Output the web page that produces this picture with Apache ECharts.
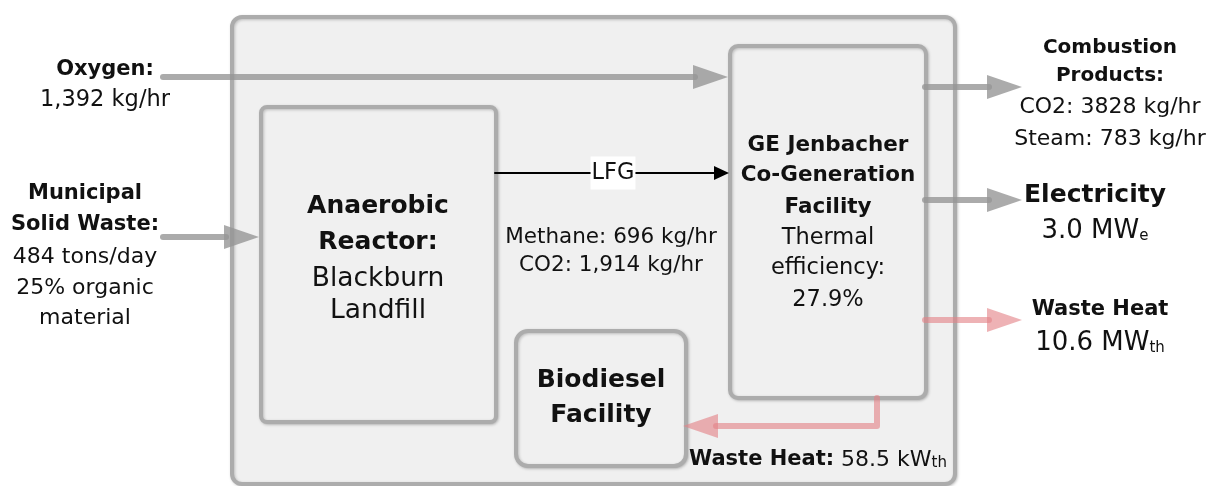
<!DOCTYPE html>
<html>
<head>
<meta charset="utf-8">
<script src="https://cdn.jsdelivr.net/npm/echarts@6/dist/echarts.min.js"></script>
<style>
  html, body { margin: 0; padding: 0; background: #fff; }
  #chart { width: 1210px; height: 486px; }
</style>
</head>
<body>
<div id="chart"></div>
<script>
// ---- text content of the diagram ----
const oxygenText = ['Oxygen:', '1,392 kg/hr'];
const mswText = ['Municipal', 'Solid Waste:', '484 tons/day', '25% organic', 'material'];
const reactorText = ['Anaerobic', 'Reactor:', 'Blackburn', 'Landfill'];
const gasLabel = 'LFG';
const gasText = ['Methane: 696 kg/hr', 'CO2: 1,914 kg/hr'];
const cogenText = ['GE Jenbacher', 'Co-Generation', 'Facility', 'Thermal', 'efficiency:', '27.9%'];
const biodieselText = ['Biodiesel', 'Facility'];
const exhaustText = ['Combustion', 'Products:', 'CO2: 3828 kg/hr', 'Steam: 783 kg/hr'];
const powerText = ['Electricity', '3.0 MW', 'e'];
const heatText = ['Waste Heat', '10.6 MW', 'th'];
const biodieselHeatText = ['Waste Heat:', '58.5 kW', 'th'];

// ---- layout (diagram units = canvas px) ----
// boxes: x0, y0, x1, y1, corner radius
const boxes = [
  [232, 17, 955, 484, 10],   // plant boundary
  [261, 107, 496, 422, 6],   // reactor
  [730, 46, 926, 398, 8],    // co-generation
  [516, 331, 686, 466, 12]   // biodiesel
];
const grayFlows = [
  [[163, 77], [728, 77]],
  [[163, 237], [259, 237]],
  [[925, 87], [1022, 87]],
  [[925, 200], [1022, 200]]
];
const heatFlows = [
  [[925, 320], [1022, 320]],
  [[877, 398], [877, 426], [683, 426]]
];
const gasFlow = [[495, 173], [729, 173]];

const FONT = '"DejaVu Sans", sans-serif';
const styles = {
  b20: 'bold 20px ' + FONT,
  b21: 'bold 21px ' + FONT,
  b215: 'bold 21.5px ' + FONT,
  b25: 'bold 25px ' + FONT,
  r215: '21.5px ' + FONT,
  r22: '22px ' + FONT,
  r22b: '22.5px ' + FONT,
  r26: '26.5px ' + FONT
};

const textItems = [];
function place(lines, x, ys, keys) {
  lines.forEach((t, i) => textItems.push({ text: t, x: x, y: ys[i], font: styles[keys[i]] }));
}
place(oxygenText, 105, [70, 100], ['b21', 'r22b']);
place(mswText, 85, [194, 225, 257, 288, 318], ['b21', 'b21', 'r22', 'r22', 'r22']);
place(reactorText, 378, [206, 242, 279, 311], ['b25', 'b25', 'r26', 'r26']);
place(gasText, 611, [237, 265], ['r215', 'r215']);
place(cogenText, 828, [145, 175, 207, 238, 268, 300], ['b215', 'b215', 'b215', 'r22b', 'r22b', 'r22b']);
place(biodieselText, 601, [380, 415], ['b25', 'b25']);
place(exhaustText, 1110, [48, 76, 107, 139], ['b20', 'b20', 'r22', 'r22']);
place([powerText[0]], 1095, [195], ['b25']);
place([heatText[0]], 1100, [310], ['b21']);

const richSub = {
  m: { font: '26px ' + FONT, fill: '#111' },
  n: { font: '22px ' + FONT, fill: '#111' },
  b: { font: 'bold 21px ' + FONT, fill: '#111' },
  s: { font: '15px ' + FONT, fill: '#111', verticalAlign: 'bottom' }
};
textItems.push({ text: '{m|' + powerText[1] + '}{s|' + powerText[2] + '}', x: 1095, y: 231, rich: true });
textItems.push({ text: '{m|' + heatText[1] + '}{s|' + heatText[2] + '}', x: 1100, y: 343, rich: true });
textItems.push({ text: '{b|' + biodieselHeatText[0] + '}{n| ' + biodieselHeatText[1] + '}{s|' + biodieselHeatText[2] + '}', x: 818, y: 460, rich: true });

const chart = echarts.init(document.getElementById('chart'));

function arrowShape(api, pts, headLen, headHalf, color, width) {
  const px = pts.map(p => api.coord(p));
  const a = px[px.length - 2], b = px[px.length - 1];
  const dx = b[0] - a[0], dy = b[1] - a[1];
  const len = Math.sqrt(dx * dx + dy * dy);
  const ux = dx / len, uy = dy / len;
  const bx = b[0] - ux * headLen, by = b[1] - uy * headLen;
  const linePts = px.slice(0, -1).concat([[bx + ux * 2, by + uy * 2]]);
  return {
    type: 'group',
    children: [
      { type: 'polyline', shape: { points: linePts },
        style: { stroke: color, lineWidth: width, lineCap: 'round', lineJoin: 'round', fill: null } },
      { type: 'polygon', shape: { points: [b, [bx - uy * headHalf, by + ux * headHalf], [bx + uy * headHalf, by - ux * headHalf]] },
        style: { fill: color } }
    ]
  };
}

const option = {
  animation: false,
  grid: { left: 0, right: 0, top: 0, bottom: 0 },
  xAxis: { type: 'value', min: 0, max: 1210, show: false },
  yAxis: { type: 'value', min: 0, max: 486, inverse: true, show: false },
  series: [
    {
      type: 'custom',
      clip: false,
      data: boxes,
      encode: { x: [0, 2], y: [1, 3] },
      renderItem: function (params, api) {
        const p0 = api.coord([api.value(0), api.value(1)]);
        const p1 = api.coord([api.value(2), api.value(3)]);
        return {
          type: 'rect',
          shape: { x: p0[0], y: p0[1], width: p1[0] - p0[0], height: p1[1] - p0[1], r: api.value(4) },
          style: {
            fill: '#f0f0f0', stroke: '#acacac', lineWidth: 4,
            shadowBlur: 3, shadowColor: 'rgba(0,0,0,0.22)', shadowOffsetX: 1, shadowOffsetY: 1
          }
        };
      }
    },
    {
      type: 'custom',
      clip: false,
      data: grayFlows.map(f => f[0]),
      renderItem: function (params, api) {
        return arrowShape(api, grayFlows[params.dataIndex], 35, 12, 'rgba(150,150,150,0.8)', 6);
      }
    },
    {
      type: 'custom',
      clip: false,
      data: heatFlows.map(f => f[0]),
      renderItem: function (params, api) {
        return arrowShape(api, heatFlows[params.dataIndex], 35, 12, 'rgba(228,130,135,0.62)', 6);
      }
    },
    {
      type: 'custom',
      clip: false,
      data: [gasFlow[0]],
      renderItem: function (params, api) {
        const g = arrowShape(api, gasFlow, 15, 7, '#000', 2);
        const mid = api.coord([(gasFlow[0][0] + gasFlow[1][0]) / 2 + 1, gasFlow[0][1]]);
        g.children.push({
          type: 'text',
          style: {
            text: gasLabel, x: mid[0], y: mid[1], align: 'center', verticalAlign: 'middle',
            font: '22.5px ' + FONT, fill: '#111', backgroundColor: '#fff', padding: [5, 1, 5, 1]
          }
        });
        return g;
      }
    },
    {
      type: 'custom',
      clip: false,
      data: textItems.map(t => [t.x, t.y]),
      renderItem: function (params, api) {
        const t = textItems[params.dataIndex];
        const p = api.coord([t.x, t.y]);
        const style = { text: t.text, x: p[0], y: p[1], align: 'center', verticalAlign: 'middle', fill: '#111' };
        if (t.rich) { style.rich = richSub; style.font = '22px ' + FONT; }
        else { style.font = t.font; }
        return { type: 'text', style: style };
      }
    }
  ]
};
chart.setOption(option);
</script>
</body>
</html>
